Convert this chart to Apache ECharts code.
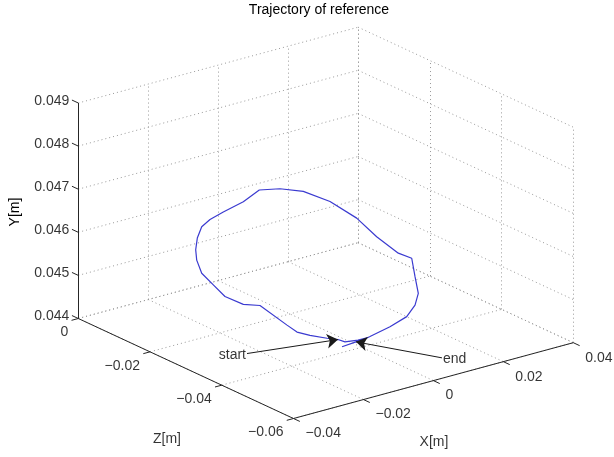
<!DOCTYPE html>
<html>
<head>
<meta charset="utf-8">
<script src="https://cdn.jsdelivr.net/npm/echarts@6/dist/echarts.min.js"></script>
<style>html,body{margin:0;padding:0;background:#fff;}#c{width:614px;height:457px;}</style>
</head>
<body>
<div id="c"></div>
<script>
// ---- data ----
const title = 'Trajectory of reference';
const xName = 'X[m]', yName = 'Y[m]', zName = 'Z[m]';
const xRange = [-0.04, 0.04];
const yRange = [0.044, 0.049];
const zRange = [-0.06, 0];
const xTicks = [-0.04, -0.02, 0, 0.02, 0.04];
const xTickLabels = ['\u22120.04', '\u22120.02', '0', '0.02', '0.04'];
const zTicks = [0, -0.02, -0.04, -0.06];
const zTickLabels = ['0', '\u22120.02', '\u22120.04', '\u22120.06'];
const yTicks = [0.044, 0.045, 0.046, 0.047, 0.048, 0.049];
const yTickLabels = ['0.044', '0.045', '0.046', '0.047', '0.048', '0.049'];

const trajX = [-0.00227,-0.00422,-0.00677,-0.00814,-0.01029,-0.01362,-0.01616,-0.01811,-0.02340,-0.02666,-0.03025,-0.03253,-0.03480,-0.03578,-0.03598,-0.03566,-0.03480,-0.03318,-0.03058,-0.02666,-0.02354,-0.01949,-0.01493,-0.00970,-0.00448,-0.00057,0.00366,0.00628,0.00693,0.00757,0.00693,0.00530,0.00203,-0.00188,-0.00266,-0.00462,-0.00735];
const trajY = [0.04443,0.04438,0.04435,0.04441,0.04445,0.04453,0.04462,0.04479,0.04527,0.04531,0.04551,0.04579,0.04607,0.04638,0.04662,0.04689,0.04715,0.04731,0.04747,0.04769,0.04795,0.04796,0.04788,0.04762,0.04721,0.04676,0.04636,0.04623,0.04580,0.04541,0.04514,0.04488,0.04466,0.04445,0.04441,0.04434,0.04424];
const trajZ = [-0.04398,-0.04310,-0.04195,-0.04134,-0.04037,-0.03887,-0.03773,-0.03685,-0.03447,-0.03300,-0.03139,-0.03036,-0.02934,-0.02890,-0.02881,-0.02895,-0.02934,-0.03007,-0.03124,-0.03300,-0.03441,-0.03623,-0.03828,-0.04063,-0.04298,-0.04474,-0.04665,-0.04783,-0.04812,-0.04841,-0.04812,-0.04739,-0.04591,-0.04415,-0.04380,-0.04292,-0.04169];

const annotations = [
  {text: 'start', index: 3},
  {text: 'end', index: 35}
];

// ---- view (layout) ----
const W = 614, H = 457;
const O = [78.3, 318.5];      // screen pos of (xmin, ymin, zmax)
const EX = [279.8, -75.8];    // full x range
const EZ = [215.2, 100];      // full z range (zmax -> zmin)
const EY = -215.5;            // full y range
const FONT = 'Liberation Sans';
const FS = 14;
const TICK = 7;

function proj(x, y, z) {
  const fx = (x - xRange[0]) / (xRange[1] - xRange[0]);
  const fz = (zRange[1] - z) / (zRange[1] - zRange[0]);
  const fy = (y - yRange[0]) / (yRange[1] - yRange[0]);
  return [O[0] + fx * EX[0] + fz * EZ[0], O[1] + fx * EX[1] + fz * EZ[1] + fy * EY];
}
function unit(v) { const l = Math.hypot(v[0], v[1]); return [v[0] / l, v[1] / l]; }

const x0 = xRange[0], x1 = xRange[1], y0 = yRange[0], y1 = yRange[1], zF = zRange[0], zB = zRange[1];

// grid lines (dotted) on floor and the two back walls
const gridSegs = [];
xTicks.forEach(x => {
  gridSegs.push([proj(x, y0, zB), proj(x, y0, zF)]);
  gridSegs.push([proj(x, y0, zB), proj(x, y1, zB)]);
});
zTicks.forEach(z => {
  gridSegs.push([proj(x0, y0, z), proj(x1, y0, z)]);
  gridSegs.push([proj(x1, y0, z), proj(x1, y1, z)]);
});
yTicks.forEach(y => {
  gridSegs.push([proj(x0, y, zB), proj(x1, y, zB)]);
  gridSegs.push([proj(x1, y, zB), proj(x1, y, zF)]);
});

// axis lines
const axisSegs = [
  [proj(x0, y0, zB), proj(x0, y1, zB)],
  [proj(x0, y0, zB), proj(x0, y0, zF)],
  [proj(x0, y0, zF), proj(x1, y0, zF)]
];
const uez = unit(EZ), uex = unit(EX);
yTicks.forEach(y => { const p = proj(x0, y, zB); axisSegs.push([p, [p[0] - uez[0] * TICK, p[1] - uez[1] * TICK]]); });
zTicks.forEach(z => { const p = proj(x0, y0, z); axisSegs.push([p, [p[0] - uex[0] * TICK, p[1] - uex[1] * TICK]]); });
xTicks.forEach(x => { const p = proj(x, y0, zF); axisSegs.push([p, [p[0] + uez[0] * TICK, p[1] + uez[1] * TICK]]); });

const traj = trajX.map((x, i) => proj(x, trajY[i], trajZ[i]));

const yLab = yTicks.map((y, i) => { const p = proj(x0, y, zB); return {name: yTickLabels[i], value: [p[0] - 9, p[1] - 2]}; });
const zLab = zTicks.map((z, i) => { const p = proj(x0, y0, z); return {name: zTickLabels[i], value: [p[0] - 10, p[1] + 14]}; });
const xLab = xTicks.map((x, i) => { const p = proj(x, y0, zF); return {name: xTickLabels[i], value: [p[0] + 12, p[1] + 15]}; });

const annOffsets = [[-91, 14], [86, 16]];
const arrowSegs = [], annLeft = [], annRight = [];
annotations.forEach((a, k) => {
  const tip = traj[a.index];
  const tail = [tip[0] + annOffsets[k][0], tip[1] + annOffsets[k][1]];
  arrowSegs.push({coords: [tail, tip]});
  if (annOffsets[k][0] < 0) annRight.push({name: a.text, value: [tail[0] - 1, tail[1] + 1.5]});
  else annLeft.push({name: a.text, value: [tail[0] + 1, tail[1] + 1.5]});
});

const nameLab = [
  {name: zName, value: [167, 439]},
  {name: xName, value: [434, 442]}
];

function labelSeries(data, align) {
  return {
    type: 'scatter', data: data, symbolSize: 0, silent: true, z: 5,
    label: {show: true, formatter: '{b}', position: [0, 0], align: align, verticalAlign: 'middle',
      fontFamily: FONT, fontSize: FS, color: '#000'}
  };
}

const chart = echarts.init(document.getElementById('c'), null, {renderer: 'canvas'});
chart.setOption({
  animation: false,
  backgroundColor: '#fff',
  grid: {left: 0, right: 0, top: 0, bottom: 0},
  xAxis: {type: 'value', min: 0, max: W, show: false},
  yAxis: {type: 'value', min: 0, max: H, inverse: true, show: false},
  graphic: [{type: 'text', x: 319, y: 10, style: {text: title, font: FS + 'px "' + FONT + '"', fill: '#000', textAlign: 'center', textVerticalAlign: 'middle'}},
            {type: 'text', x: 15, y: 212, rotation: Math.PI / 2, style: {text: yName, font: FS + 'px "' + FONT + '"', fill: '#000', textAlign: 'center', textVerticalAlign: 'middle'}}],
  series: [
    {type: 'lines', coordinateSystem: 'cartesian2d', silent: true, z: 1,
     data: gridSegs.map(s => ({coords: s})),
     lineStyle: {color: '#999999', width: 1, type: [1, 3], opacity: 1}},
    {type: 'lines', coordinateSystem: 'cartesian2d', silent: true, z: 3,
     data: axisSegs.map(s => ({coords: s})),
     lineStyle: {color: '#262626', width: 1, opacity: 1}},
    {type: 'line', data: traj, showSymbol: false, silent: true, z: 4,
     lineStyle: {color: '#3a3ad0', width: 1.2}},
    {type: 'lines', coordinateSystem: 'cartesian2d', silent: true, z: 6,
     data: arrowSegs, symbol: ['none', 'arrow'], symbolSize: 11,
     lineStyle: {color: '#1a1a1a', width: 1, opacity: 1}},
    labelSeries(yLab, 'right'),
    labelSeries(zLab, 'right'),
    labelSeries(xLab, 'left'),
    labelSeries(annRight, 'right'),
    labelSeries(annLeft, 'left'),
    labelSeries(nameLab, 'center')
  ]
});
</script>
</body>
</html>
